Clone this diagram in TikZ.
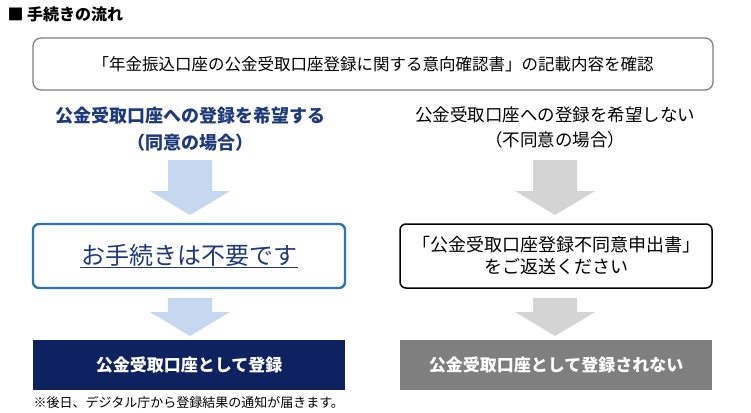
\documentclass[tikz,border=0pt]{standalone}
\usepackage{fontspec}
\setmainfont{Noto Sans CJK JP}
\definecolor{navy}{HTML}{0E2260}
\definecolor{lblue}{HTML}{C6D8EF}
\definecolor{lgray}{HTML}{D4D4D4}
\definecolor{dgray}{HTML}{7F7F7F}
\definecolor{bblue}{HTML}{2E75B6}
\definecolor{tblue}{HTML}{1F3A7A}
\tikzset{
 box/.style={draw, rounded corners=6pt, line width=1.5pt, minimum height=64pt, minimum width=312pt, align=center},
 solid/.style={rounded corners=0pt, minimum height=50pt, minimum width=312pt, text=white, font=\fontsize{17}{20}\selectfont\bfseries},
}
\newcommand{\blockarrow}[4]{% x, ytop, ybot, color
 \fill[#4] (#1-22,#2) -- (#1+22,#2) -- (#1+22,#3-24) -- (#1+40,#3-24) -- (#1,#3) -- (#1-40,#3-24) -- (#1-22,#3-24) -- cycle;}
\begin{document}
\begin{tikzpicture}[x=1pt,y=-1pt]
\useasboundingbox (0,0) rectangle (751,412);
\node[anchor=west, font=\fontsize{16}{18}\selectfont\bfseries] (title) at (4,14) {■ 手続きの流れ};
\node[draw=gray, line width=1.3pt, rounded corners=8pt, minimum width=680pt, minimum height=52pt, font=\fontsize{16.5}{18}\selectfont] (top) at (373,64) {「年金振込口座の公金受取口座登録に関する意向確認書」の記載内容を確認};
\node[text=tblue, align=center, font=\fontsize{18}{27}\selectfont\bfseries] (ll) at (190,129) {公金受取口座への登録を希望する\\（同意の場合）};
\node[align=center, font=\fontsize{17.5}{25}\selectfont] (rl) at (555,127) {公金受取口座への登録を希望しない\\（不同意の場合）};
\blockarrow{190}{160}{215}{lblue}
\blockarrow{555}{160}{215}{lgray}
\node[box, draw=bblue, line width=2.4pt] (lb) at (189,256) {};
\node[text=tblue, font=\fontsize{24}{26}\selectfont, inner sep=1pt] (lt) at (189,255) {お手続きは不要です};
\draw[tblue, line width=1.2pt] (lt.south west) -- (lt.south east);
\node[box, draw=black, font=\fontsize{18}{22}\selectfont] (rb) at (556,256) {「公金受取口座登録不同意申出書」\\をご返送ください};
\blockarrow{190}{298}{336}{lblue}
\blockarrow{555}{298}{336}{lgray}
\node[solid, fill=navy] (lf) at (189,365) {公金受取口座として登録};
\node[solid, fill=dgray] (rf) at (556,365) {公金受取口座として登録されない};
\node[anchor=west, font=\fontsize{13}{15}\selectfont] (note) at (30,402) {※後日、デジタル庁から登録結果の通知が届きます。};
\end{tikzpicture}
\end{document}
